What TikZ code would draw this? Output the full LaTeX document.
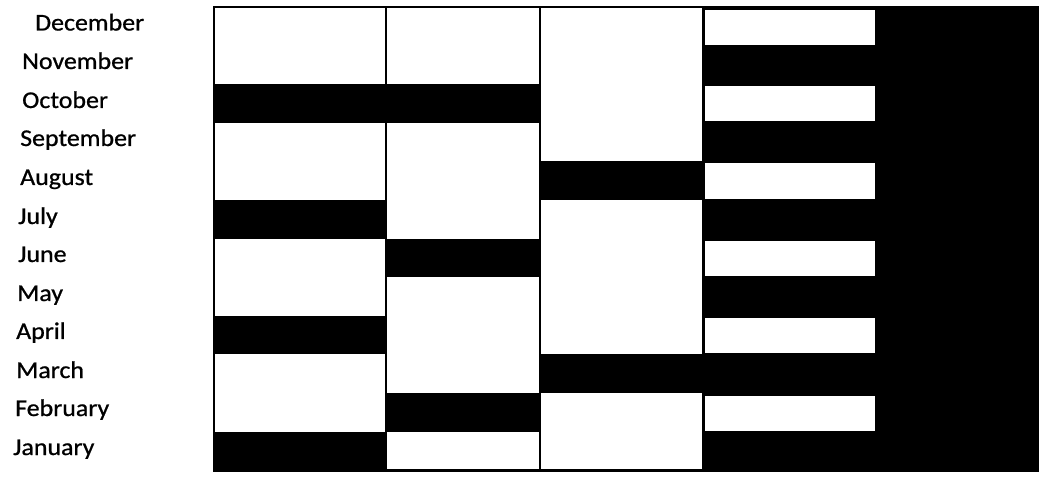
\documentclass[tikz,border=0pt]{standalone}
\usepackage{fontspec}
\newfontfamily\labfont[FakeStretch=1.08,FakeBold=0.8]{Carlito}
\begin{document}
\begin{tikzpicture}[x=1pt,y=-1pt,
  lab/.style={anchor=base west, inner sep=0pt, font=\labfont\fontsize{24}{24}\selectfont},
  band/.style={fill=black},
  hole/.style={fill=white},
  frame/.style={line width=2.6pt, line join=miter}]
\useasboundingbox (0,0) rectangle (1039,478);
\fill[white] (0,0) rectangle (1039,478);
% month labels
\node[lab] (dec) at (35,30.5) {December};
\node[lab] (nov) at (22,69) {November};
\node[lab] (oct) at (22,108) {October};
\node[lab] (sep) at (20,146) {September};
\node[lab] (aug) at (20,185) {August};
\node[lab] (jul) at (18,224) {July};
\node[lab] (jun) at (18,262) {June};
\node[lab] (may) at (17,301) {May};
\node[lab] (apr) at (16,339) {April};
\node[lab] (mar) at (16,378) {March};
\node[lab] (feb) at (15,416) {February};
\node[lab] (jan) at (13,455) {January};
% column 1 bands (Oct, Jul, Apr, Jan)
\fill[band] (214,84.2) rectangle (386,122.8);
\fill[band] (214,200) rectangle (386,238.6);
\fill[band] (214,315.8) rectangle (386,354.4);
\fill[band] (214,431.6) rectangle (386,470.2);
% column 2 bands (Oct, Jun, Feb)
\fill[band] (386,84.2) rectangle (540,122.8);
\fill[band] (386,238.6) rectangle (540,277.2);
\fill[band] (386,393) rectangle (540,431.6);
% column 3 bands (Aug, Mar)
\fill[band] (540,161.4) rectangle (703,200);
\fill[band] (540,354.4) rectangle (703,393);
% column 4: black with white months
\fill[band] (703,7) rectangle (875,470.2);
\fill[hole] (705,10) rectangle (875,45);
\fill[hole] (705,86.5) rectangle (875,121);
\fill[hole] (705,163.5) rectangle (875,199);
\fill[hole] (705,241) rectangle (875,276);
\fill[hole] (705,318) rectangle (875,353);
\fill[hole] (705,395.5) rectangle (875,430.5);
% column 5: all black
\fill[band] (875,7) rectangle (1039,470.2);
% frame and column lines
\draw[frame] (214,7) rectangle (1039,470.2);
\draw[frame] (386,7) -- (386,470.2);
\draw[frame] (540,7) -- (540,470.2);
\draw[frame] (703,7) -- (703,470.2);
\end{tikzpicture}
\end{document}
